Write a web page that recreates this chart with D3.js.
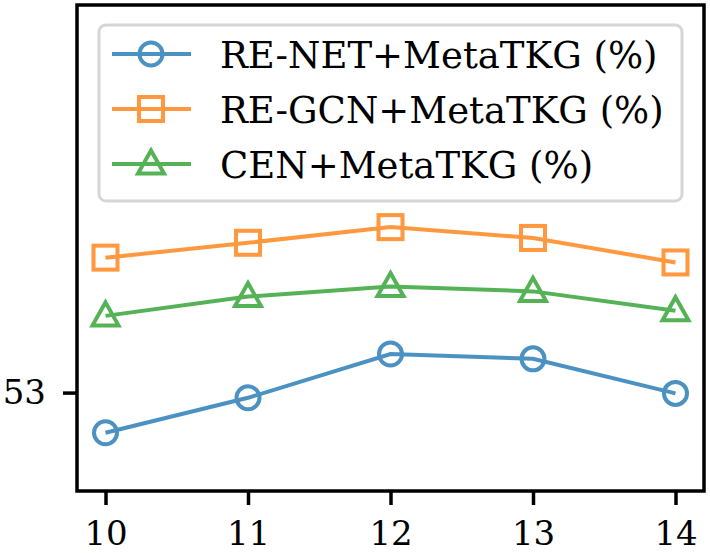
<!DOCTYPE html>
<html>
<head>
<meta charset="utf-8">
<script src="https://cdn.jsdelivr.net/npm/d3@7"></script>
<style>
  body { margin: 0; background: #fff; }
  text { font-family: "DejaVu Serif", serif; fill: #000; }
</style>
</head>
<body>
<svg id="chart" width="710" height="553"></svg>
<script>
// data
var windowSizes = [10, 11, 12, 13, 14];
var renetMeta = [52.90, 52.987, 53.096, 53.084, 52.998];
var regcnMeta = [53.336, 53.373, 53.412, 53.385, 53.324];
var cenMeta = [53.191, 53.239, 53.264, 53.252, 53.204];
var seriesNames = ["RE-NET+MetaTKG (%)", "RE-GCN+MetaTKG (%)", "CEN+MetaTKG (%)"];
var yTicks = [53];

var series = [
  { name: seriesNames[0], values: renetMeta, color: "#1f77b4", marker: "circle" },
  { name: seriesNames[1], values: regcnMeta, color: "#ff7f0e", marker: "square" },
  { name: seriesNames[2], values: cenMeta, color: "#2ca02c", marker: "triangle" }
];

var margin = { left: 77, right: 6, top: 5, bottom: 62 },
    width = 710, height = 553;

var svg = d3.select("#chart");

var x = d3.scaleLinear()
    .domain([9.8, 14.2])
    .range([margin.left, width - margin.right]);

var y = d3.scaleLinear()
    .domain([52.755, 53.965])
    .range([height - margin.bottom, margin.top]);

// marker shapes
function drawMarker(g, type, color) {
  if (type === "circle") {
    g.append("circle").attr("r", 11.5);
  } else if (type === "square") {
    g.append("rect").attr("x", -12).attr("y", -12).attr("width", 24).attr("height", 24);
  } else {
    g.append("path").attr("d", "M0,-13.5L13,9.5L-13,9.5Z");
  }
  g.selectAll("*")
    .attr("fill", "none")
    .attr("stroke", color)
    .attr("stroke-width", 4);
}

var plot = svg.append("g");

var line = d3.line()
    .x(function(d, i) { return x(windowSizes[i]); })
    .y(function(d) { return y(d); });

series.forEach(function(s) {
  var g = plot.append("g").attr("opacity", 0.8);
  g.append("path")
    .datum(s.values)
    .attr("d", line)
    .attr("fill", "none")
    .attr("stroke", s.color)
    .attr("stroke-width", 4);
  s.values.forEach(function(v, i) {
    var m = g.append("g").attr("transform", "translate(" + x(windowSizes[i]) + "," + y(v) + ")");
    drawMarker(m, s.marker, s.color);
  });
});

// axes
var xAxis = svg.append("g")
    .attr("transform", "translate(0," + (height - margin.bottom) + ")")
    .call(d3.axisBottom(x).tickValues(windowSizes).tickFormat(d3.format("d")).tickSize(14).tickPadding(16));

var yAxis = svg.append("g")
    .attr("transform", "translate(" + margin.left + ",0)")
    .call(d3.axisLeft(y).tickValues(yTicks).tickFormat(d3.format("d")).tickSize(14).tickPadding(17));

[xAxis, yAxis].forEach(function(a) {
  a.select(".domain").remove();
  a.selectAll(".tick line").attr("stroke", "#000").attr("stroke-width", 3.5);
  a.selectAll(".tick text").style("font-size", "34px").style("font-family", "DejaVu Serif");
});

// frame
svg.append("rect")
  .attr("x", margin.left)
  .attr("y", margin.top)
  .attr("width", width - margin.left - margin.right)
  .attr("height", height - margin.top - margin.bottom)
  .attr("fill", "none")
  .attr("stroke", "#000")
  .attr("stroke-width", 3.5);

// legend
var legend = svg.append("g");
legend.append("rect")
  .attr("x", 99)
  .attr("y", 25)
  .attr("width", 583)
  .attr("height", 176)
  .attr("rx", 7)
  .attr("fill", "#fff")
  .attr("fill-opacity", 0.8)
  .attr("stroke", "#d6d6d6")
  .attr("stroke-width", 3);

var rowY = [54, 109, 164];
series.forEach(function(s, i) {
  var row = legend.append("g").attr("transform", "translate(0," + rowY[i] + ")");
  var h = row.append("g").attr("opacity", 0.8);
  h.append("line")
    .attr("x1", 112).attr("x2", 191)
    .attr("stroke", s.color).attr("stroke-width", 4);
  var m = h.append("g").attr("transform", "translate(151,0)");
  drawMarker(m, s.marker, s.color);
  row.append("text")
    .attr("x", 220)
    .attr("y", 14)
    .style("font-size", "37px")
    .text(s.name);
});
</script>
</body>
</html>
